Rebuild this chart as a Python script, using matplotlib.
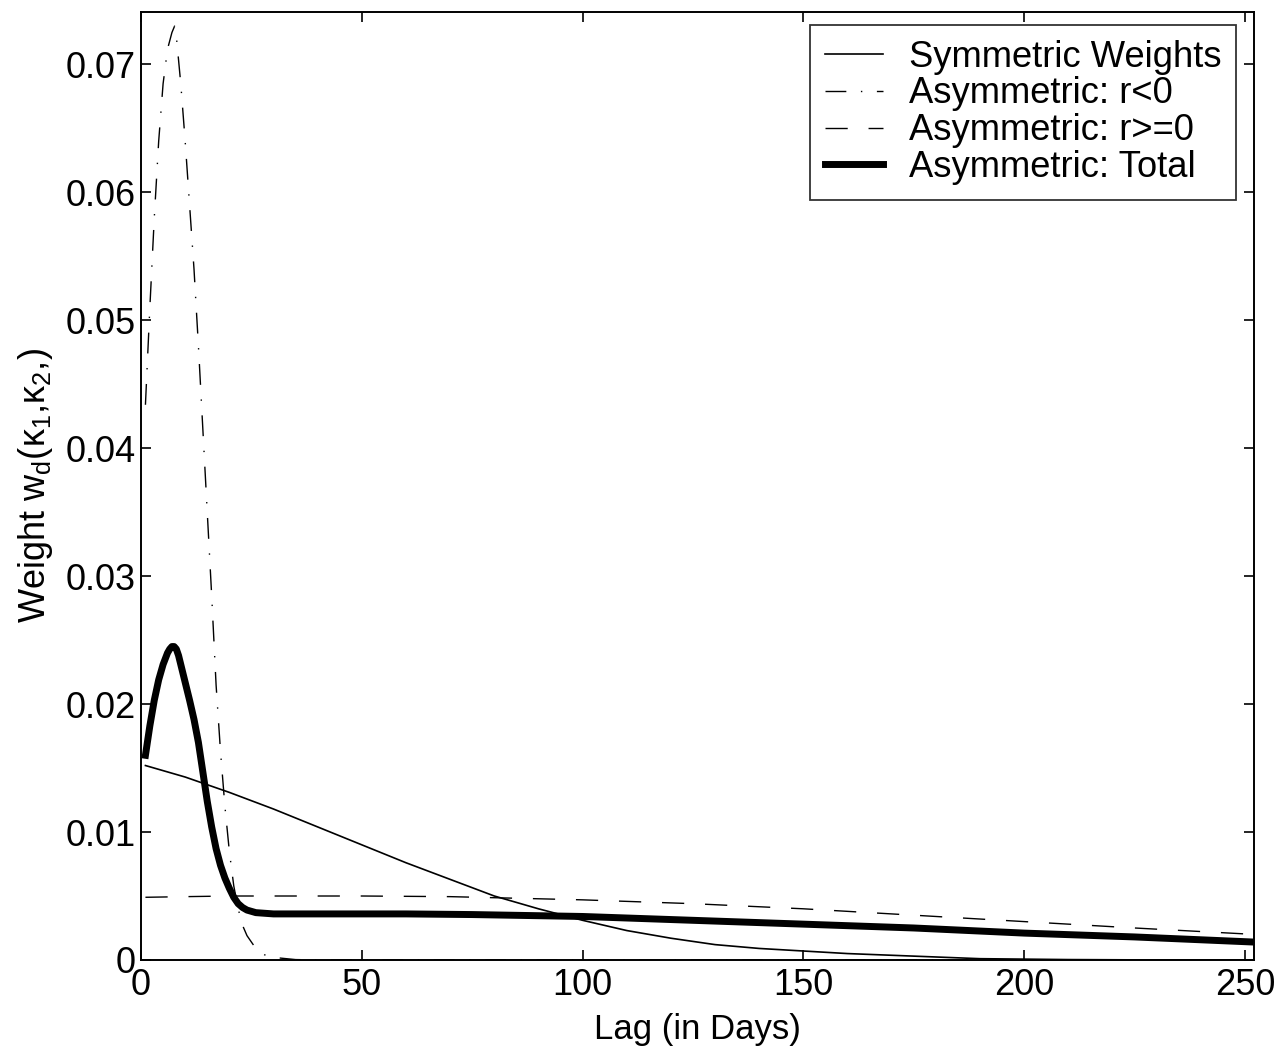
import matplotlib
matplotlib.use("Agg")
import matplotlib.pyplot as plt

# lag grid (days) and weights
sym_lag = [1, 10, 20, 30, 40, 50, 60, 70, 80, 90, 100, 110, 120, 130, 140,
           150, 160, 175, 190, 210, 230, 252]
sym_w = [0.0152, 0.0143, 0.0131, 0.0118, 0.0104, 0.0090, 0.0076, 0.0063, 0.0050,
         0.0040, 0.0031, 0.0023, 0.0017, 0.0012, 0.0009, 0.0007, 0.0005, 0.0003,
         0.0001, 0.00003, 0.0, 0.0]

neg_lag = [1, 2, 3, 4, 5, 6, 7, 7.6, 8, 9, 10, 11, 12, 13, 14, 15, 16, 17, 18, 19,
           20, 21, 22, 23, 24, 26, 28, 30, 35, 40, 100, 252]
neg_w = [0.0434, 0.0510, 0.0580, 0.0640, 0.0685, 0.0712, 0.0725, 0.0730, 0.0722,
         0.0685, 0.0640, 0.0590, 0.0540, 0.0480, 0.0415, 0.0350, 0.0285, 0.0215,
         0.0163, 0.0120, 0.0085, 0.0058, 0.0040, 0.0027, 0.0019, 0.0009, 0.0004,
         0.0002, 0.00003, 0.0, 0.0, 0.0]

pos_lag = [1, 10, 20, 30, 50, 70, 100, 125, 150, 175, 200, 225, 252]
pos_w = [0.0049, 0.00495, 0.0050, 0.0050, 0.0050, 0.00495, 0.0047, 0.0044, 0.0040,
         0.0035, 0.0030, 0.0025, 0.0020]

tot_lag = [1, 2, 3, 4, 5, 6, 6.5, 7, 7.5, 8, 8.5, 9, 10, 11, 12, 13, 14, 15, 16, 17,
           18, 19, 20, 21, 22, 23, 24, 26, 28, 30, 40, 50, 60, 75, 100, 125, 150,
           175, 200, 225, 252]
tot_w = [0.0160, 0.0183, 0.0203, 0.0219, 0.0231, 0.0240, 0.0243, 0.0245, 0.0245,
         0.0243, 0.0238, 0.0231, 0.0217, 0.0203, 0.0188, 0.0170, 0.0147, 0.0124,
         0.0104, 0.0087, 0.0074, 0.0064, 0.0056, 0.0049, 0.0044, 0.0041, 0.0039,
         0.0037, 0.00365, 0.0036, 0.0036, 0.0036, 0.0036, 0.00355, 0.0034, 0.0031,
         0.0028, 0.0025, 0.0021, 0.0018, 0.0014]

labels = ["Symmetric Weights", "Asymmetric: r<0", "Asymmetric: r>=0", "Asymmetric: Total"]

plt.rcParams["font.family"] = ["Liberation Sans", "DejaVu Sans"]
plt.rcParams["mathtext.fontset"] = "custom"
plt.rcParams["mathtext.rm"] = "Liberation Sans"
plt.rcParams["mathtext.it"] = "Liberation Sans"

fig = plt.figure(figsize=(12.82, 10.57), dpi=100)
ax = fig.add_axes([0.110, 0.0918, 0.868, 0.8968])

ax.plot(sym_lag, sym_w, "-", color="k", lw=1.2, label=labels[0])
ax.plot(neg_lag, neg_w, color="k", lw=1.0, linestyle=(0, (15, 10.5, 1, 10.5)), label=labels[1])
ax.plot(pos_lag, pos_w, color="k", lw=1.0, linestyle=(0, (16, 15)), label=labels[2])
ax.plot(tot_lag, tot_w, "-", color="k", lw=5, label=labels[3])

ax.set_xlim(0, 252)
ax.set_ylim(0, 0.0741)
ax.set_xticks([0, 50, 100, 150, 200, 250])
ax.set_yticks([0, 0.01, 0.02, 0.03, 0.04, 0.05, 0.06, 0.07])
ax.set_yticklabels(["0", "0.01", "0.02", "0.03", "0.04", "0.05", "0.06", "0.07"])
ax.tick_params(direction="in", length=7, width=1.2, labelsize=26,
               top=True, right=True)
ax.tick_params(axis="y", pad=4)
ax.tick_params(axis="x", pad=6)
for s in ax.spines.values():
    s.set_linewidth(1.4)

ax.set_xlabel("Lag (in Days)", fontsize=25, labelpad=7)
ax.set_ylabel(r"Weight w$_d$(κ$_1$,κ$_2$,)", fontsize=26, labelpad=7)

leg = ax.legend(loc="upper right", bbox_to_anchor=(1 - 18 / 1114, 1 - 13 / 948),
                fontsize=26.2, frameon=True, fancybox=False,
                handlelength=1.6, handletextpad=0.7, borderaxespad=0,
                labelspacing=0.05, borderpad=0.4)
leg.get_frame().set_edgecolor("k")
leg.get_frame().set_linewidth(1.3)

fig.savefig("out.png", dpi=100)
